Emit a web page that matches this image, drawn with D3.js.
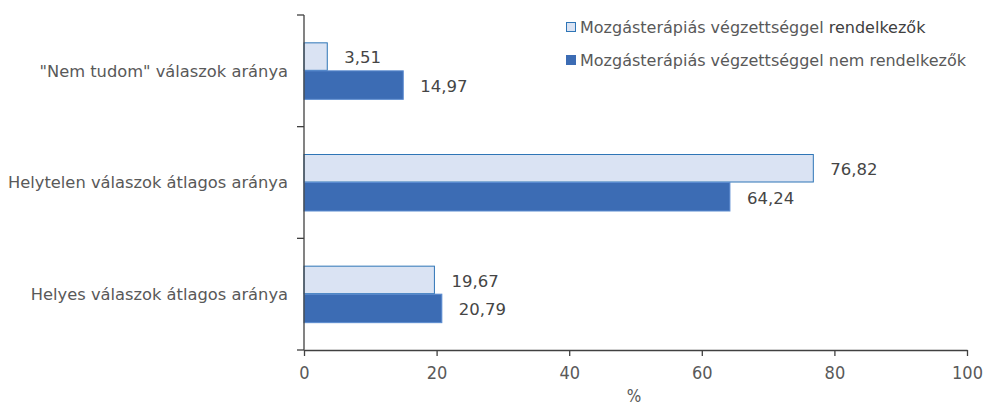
<!DOCTYPE html>
<html>
<head>
<meta charset="utf-8">
<script src="https://cdn.jsdelivr.net/npm/d3@7"></script>
<style>
  body { margin: 0; background: #fff; }
  svg text { font-family: "DejaVu Sans", "Liberation Sans", sans-serif; fill: #595959; }
</style>
</head>
<body>
<div id="chart"></div>
<script>
// Data
const categories = ['"Nem tudom" válaszok aránya', "Helytelen válaszok átlagos aránya", "Helyes válaszok átlagos aránya"];
const seriesNames = ["Mozgásterápiás végzettséggel rendelkezők", "Mozgásterápiás végzettséggel nem rendelkezők"];
const withDegree = [3.51, 76.82, 19.67];
const withoutDegree = [14.97, 64.24, 20.79];
const xTicks = [0, 20, 40, 60, 80, 100];

const width = 985, height = 406;
const margin = { top: 15, right: 18, bottom: 56, left: 304 };

const lightFill = "#dae3f3", lightStroke = "#2e75b6";
const darkFill = "#3c6cb4";
const axisColor = "#404040";
const narrowFont = '"DejaVu Sans Condensed", "DejaVu Sans", sans-serif';

const svg = d3.select("#chart").append("svg")
    .attr("width", width)
    .attr("height", height);

const x = d3.scaleLinear().domain([0, 100]).range([margin.left, width - margin.right]);
const y = d3.scaleBand().domain(categories).range([margin.top, height - margin.bottom]);
const inner = d3.scaleBand().domain([0, 1]).range([0, 57]);
const barOffset = (y.bandwidth() - 57) / 2;

const rows = categories.map((c, i) => ({ cat: c, vals: [withDegree[i], withoutDegree[i]] }));

// Bars
const g = svg.append("g");
rows.forEach(r => {
    r.vals.forEach((v, k) => {
        const top = y(r.cat) + barOffset + inner(k);
        g.append("rect")
            .attr("x", x(0))
            .attr("y", top + (k === 0 ? 0.5 : 0))
            .attr("width", x(v) - x(0))
            .attr("height", inner.bandwidth() - (k === 0 ? 1 : 0))
            .attr("fill", k === 0 ? lightFill : darkFill)
            .attr("stroke", k === 0 ? lightStroke : "#5b8bd0")
            .attr("stroke-width", 1);
        g.append("text")
            .attr("x", x(v) + 17)
            .attr("y", top + inner.bandwidth() / 2 + 1)
            .attr("dy", "0.35em")
            .style("font-size", "16.5px")
            .style("fill", "#454545")
            .text(d3.format(".2f")(v).replace(".", ","));
    });
});

// X axis
const xAxis = svg.append("g")
    .attr("transform", `translate(0,${height - margin.bottom})`)
    .call(d3.axisBottom(x).tickValues(xTicks).tickSize(6).tickSizeOuter(0).tickPadding(10));
xAxis.selectAll("text")
    .style("font-family", narrowFont)
    .style("font-size", "18px")
    .style("fill", "#595959");

// Y axis: ticks at category boundaries
const yAxis = svg.append("g")
    .attr("transform", `translate(${margin.left},0)`);
yAxis.append("line")
    .attr("x1", 0).attr("x2", 0)
    .attr("y1", margin.top).attr("y2", height - margin.bottom);
const bounds = categories.map(c => y(c)).concat([y.range()[1]]);
yAxis.selectAll("line.tick").data(bounds).enter().append("line")
    .attr("class", "tick")
    .attr("x1", -7).attr("x2", 0)
    .attr("y1", d => d).attr("y2", d => d);
yAxis.selectAll("text").data(categories).enter().append("text")
    .attr("x", -16)
    .attr("y", d => y(d) + y.bandwidth() / 2)
    .attr("dy", "0.35em")
    .attr("text-anchor", "end")
    .style("font-size", "16.3px")
    .text(d => d);

svg.selectAll(".domain, .tick line, g line").attr("stroke", axisColor).attr("stroke-width", 1.3);

// Axis title
svg.append("text")
    .attr("x", 634)
    .attr("y", 402)
    .attr("text-anchor", "middle")
    .style("font-family", narrowFont)
    .style("font-size", "17px")
    .text("%");

// Legend
const legend = svg.append("g").attr("transform", "translate(566,22)");
seriesNames.forEach((name, i) => {
    const row = legend.append("g").attr("transform", `translate(0,${i * 33})`);
    row.append("rect")
        .attr("x", 0.5).attr("y", 0.5)
        .attr("width", 9).attr("height", 9)
        .attr("fill", i === 0 ? lightFill : darkFill)
        .attr("stroke", i === 0 ? lightStroke : darkFill);
    const t = row.append("text")
        .attr("x", 14)
        .attr("y", 5.5)
        .attr("dy", "0.35em")
        .style("font-size", "16px");
    if (i === 0) {
        t.append("tspan").text("Mozgásterápiás végzettséggel ");
        t.append("tspan").style("fill", "#404040").text("rendelkezők");
    } else {
        t.text(name);
    }
});
</script>
</body>
</html>
